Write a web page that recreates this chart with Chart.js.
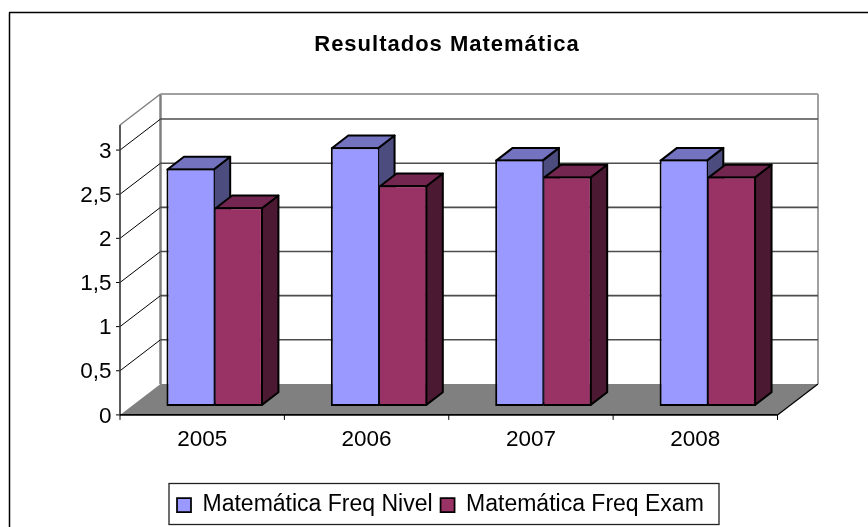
<!DOCTYPE html>
<html>
<head>
<meta charset="utf-8">
<style>
  html, body { margin: 0; padding: 0; background: #fff; }
  canvas { display: block; }
</style>
<script src="https://cdn.jsdelivr.net/npm/chart.js@4/dist/chart.umd.min.js"></script>
</head>
<body>
<canvas id="chart" width="868" height="527"></canvas>
<script>
const years = ['2005', '2006', '2007', '2008'];
const freqNivel = [2.69, 2.93, 2.79, 2.79];
const freqExam = [2.25, 2.5, 2.6, 2.6];
const yTicks = [0, 0.5, 1, 1.5, 2, 2.5, 3];
const yTickLabels = ['0', '0,5', '1', '1,5', '2', '2,5', '3'];

const font = 'Liberation Sans, Arial, sans-serif';

// offsets of the front and back planes from the plane the bars stand on
const front = { dx: -12.5, dy: 9 };
const back = { dx: 28, dy: -22 };
const barDepth = { dx: 16.5, dy: -12.7 };

function shade(ctx, points, fill) {
  ctx.beginPath();
  points.forEach((p, i) => i ? ctx.lineTo(p[0], p[1]) : ctx.moveTo(p[0], p[1]));
  ctx.closePath();
  ctx.fillStyle = fill;
  ctx.fill();
  ctx.strokeStyle = '#000';
  ctx.lineWidth = 2;
  ctx.lineJoin = 'round';
  ctx.stroke();
}

function line(ctx, x1, y1, x2, y2, color, width) {
  ctx.beginPath();
  ctx.moveTo(x1, y1);
  ctx.lineTo(x2, y2);
  ctx.strokeStyle = color;
  ctx.lineWidth = width;
  ctx.stroke();
}

const box3d = {
  id: 'box3d',
  afterLayout(chart) {
    // the boxes are not centred on the canvas in the original
    const title = chart.titleBlock;
    const drawTitle = title.draw;
    title.left = 26;
    title.right = 868;
    title.draw = function () {
      chart.ctx.save();
      chart.ctx.letterSpacing = '1px';
      drawTitle.call(title);
      chart.ctx.restore();
    };
    const lg = chart.legend;
    lg.left = 169;
    lg.right = 719.5;
    lg.top = 485.5;
    lg.bottom = 525;
    lg.options.align = 'start';
  },
  beforeDatasetsDraw(chart) {
    const ctx = chart.ctx;
    const a = chart.chartArea;
    const y = chart.scales.y;
    ctx.save();

    // floor
    ctx.beginPath();
    ctx.moveTo(a.left + front.dx, a.bottom + front.dy);
    ctx.lineTo(a.right + front.dx, a.bottom + front.dy);
    ctx.lineTo(a.right + back.dx, a.bottom + back.dy);
    ctx.lineTo(a.left + back.dx, a.bottom + back.dy);
    ctx.closePath();
    ctx.fillStyle = '#808080';
    ctx.fill();

    // walls
    line(ctx, a.left + back.dx, a.top + back.dy, a.left + back.dx, a.bottom + back.dy, '#808080', 2.5);
    line(ctx, a.right + back.dx, a.top + back.dy, a.right + back.dx, a.bottom + back.dy, '#a0a0a0', 2);
    line(ctx, a.left + back.dx, a.top + back.dy, a.right + back.dx, a.top + back.dy, '#a0a0a0', 2);
    line(ctx, a.left + front.dx, a.top + front.dy, a.left + back.dx, a.top + back.dy, '#808080', 1.5);

    // gridlines over left and back wall, ticks on the front
    yTicks.forEach(v => {
      const py = y.getPixelForValue(v);
      line(ctx, a.left + front.dx - 4, py + front.dy, a.left + front.dx, py + front.dy, '#000', 1);
      if (v === 0) return;
      line(ctx, a.left + front.dx, py + front.dy, a.left + back.dx, py + back.dy, '#000', 1);
      line(ctx, a.left + back.dx, py + back.dy, a.right + back.dx, py + back.dy, '#4d4d4d', 1.6);
    });

    line(ctx, a.left + front.dx, a.top + front.dy, a.left + front.dx, a.bottom + front.dy, '#333', 1.6);
    line(ctx, a.left + front.dx, a.bottom + front.dy, a.right + front.dx, a.bottom + front.dy, '#000', 1.6);
    line(ctx, a.right + front.dx, a.bottom + front.dy, a.right + back.dx, a.bottom + back.dy, '#000', 1.2);

    const step = (a.right - a.left) / years.length;
    for (let i = 0; i <= years.length; i++) {
      const px = a.left + front.dx + i * step;
      line(ctx, px, a.bottom + front.dy, px, a.bottom + front.dy + 5, '#000', 1);
    }

    // sides and tops of the bars, the fronts are the library's own bars
    chart.data.datasets.forEach((ds, d) => {
      chart.getDatasetMeta(d).data.forEach(bar => {
        const l = bar.x - bar.width / 2 + 1;
        const r = bar.x + bar.width / 2 - 1;
        const t = bar.y + 1;
        const b = bar.base - 1;
        shade(ctx, [[r, t], [r + barDepth.dx, t + barDepth.dy], [r + barDepth.dx, b + barDepth.dy], [r, b]], ds.sideColor);
        shade(ctx, [[l, t], [l + barDepth.dx, t + barDepth.dy], [r + barDepth.dx, t + barDepth.dy], [r, t]], ds.topColor);
      });
    });
    ctx.restore();
  },
  afterDraw(chart) {
    const ctx = chart.ctx;
    const lg = chart.legend;
    ctx.save();
    // frame of the chart, only left and top are in the picture
    line(ctx, 9.5, 527, 9.5, 12.5, '#000', 1.5);
    line(ctx, 9, 12.5, 868, 12.5, '#000', 1.5);
    ctx.strokeStyle = '#222';
    ctx.lineWidth = 1.3;
    // the legend top was pushed down for its text, the box itself starts higher
    ctx.strokeRect(lg.left, lg.top - 2, lg.right - lg.left - 0.5, lg.bottom - lg.top + 1.5);
    ctx.restore();
  }
};

new Chart(document.getElementById('chart'), {
  type: 'bar',
  plugins: [box3d],
  data: {
    labels: years,
    datasets: [
      {
        label: 'Matemática Freq Nivel',
        data: freqNivel,
        backgroundColor: '#9999ff',
        sideColor: '#4c4c7f',
        topColor: '#7373bf',
        borderColor: '#000',
        borderWidth: { top: 2, left: 2, bottom: 2, right: 1 },
        borderSkipped: false
      },
      {
        label: 'Matemática Freq Exam',
        data: freqExam,
        backgroundColor: '#993366',
        sideColor: '#4c1933',
        topColor: '#732650',
        borderColor: '#000',
        borderWidth: { top: 2, left: 1, bottom: 2, right: 2 },
        borderSkipped: false
      }
    ]
  },
  options: {
    responsive: false,
    animation: false,
    events: [],
    layout: { autoPadding: false, padding: { left: 0, right: 78, top: 0, bottom: 2 } },
    datasets: { bar: { categoryPercentage: 0.587, barPercentage: 1 } },
    plugins: {
      tooltip: { enabled: false },
      title: {
        display: true,
        text: 'Resultados Matemática',
        color: '#000',
        font: { family: font, size: 22, weight: 'bold' },
        padding: { top: 32, bottom: 57.6 }
      },
      legend: {
        position: 'bottom',
        labels: {
          color: '#000',
          font: { family: font, size: 23 },
          boxWidth: 14,
          boxHeight: 14,
          padding: 8
        }
      }
    },
    scales: {
      x: {
        grid: { display: false, drawTicks: false },
        border: { display: false },
        afterFit: s => { s.height = 78.1; },
        ticks: {
          color: '#000',
          font: { family: font, size: 22.5 },
          labelOffset: front.dx,
          padding: 20.5,
          maxRotation: 0,
          autoSkip: false
        }
      },
      y: {
        min: 0,
        max: 3.284,
        grid: { display: false, drawTicks: false },
        border: { display: false },
        afterFit: s => { s.width = 132.5; },
        afterBuildTicks: s => { s.ticks = yTicks.map(v => ({ value: v })); },
        ticks: {
          color: '#000',
          font: { family: font, size: 22.5 },
          labelOffset: 10.5,
          padding: 21,
          callback: (v, i) => yTickLabels[i]
        }
      }
    }
  }
});
</script>
</body>
</html>
